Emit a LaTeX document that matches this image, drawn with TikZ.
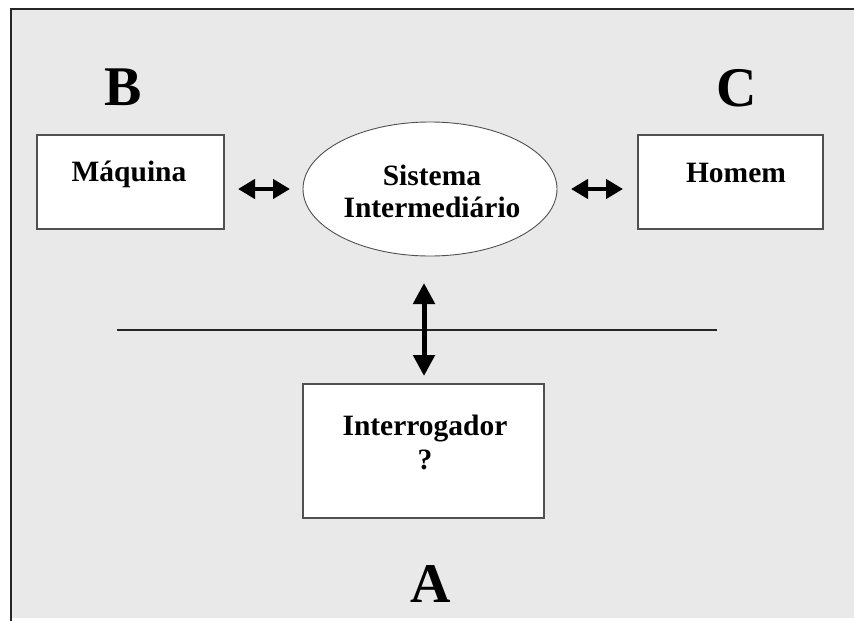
\documentclass[tikz,border=0pt]{standalone}
\usepackage{fontspec}
\setmainfont{Liberation Serif}
\usetikzlibrary{arrows.meta,shapes.geometric}
\definecolor{panel}{HTML}{E9E9E9}
\definecolor{edge}{HTML}{505050}
\tikzset{
  blockbox/.style={draw=edge, line width=1.4pt, fill=white, inner sep=0pt},
  lbl/.style={font=\fontsize{29.5}{34}\selectfont\bfseries, align=center, inner sep=0pt},
  bigletter/.style={font=\fontsize{56}{60}\selectfont\bfseries, inner sep=0pt},
  hlink/.style={line width=4.5pt, {Triangle[length=17pt,width=19pt]}-{Triangle[length=17pt,width=19pt]}},
  vlink/.style={line width=5pt, {Triangle[length=21pt,width=21pt]}-{Triangle[length=21pt,width=21pt]}}
}
\begin{document}
\begin{tikzpicture}[x=1pt, y=-1pt]
  \useasboundingbox (0,0) rectangle (854,621);
  % grey panel with its top and left rules
  \fill[panel] (11,9) rectangle (854,618);
  \draw[line width=1.6pt, black!85] (854,9) -- (11,9) -- (11,621);

  % boxes
  \node[blockbox, minimum width=187pt, minimum height=94pt] (maq) at (130.5,182) {};
  \node[lbl] at (129,174) {Máquina};
  \node[blockbox, minimum width=185pt, minimum height=94pt] (hom) at (730.5,182) {};
  \node[lbl] at (736,173) {Homem};
  \node[draw=edge, line width=0.9pt, fill=white, ellipse, minimum width=254pt, minimum height=134pt, inner sep=0pt] (sis) at (430,189) {};
  \node[lbl] at (432,191) {Sistema\\[-2pt]Intermediário};
  \node[blockbox, minimum width=241pt, minimum height=134pt] (int) at (423.5,451) {};
  \node[lbl] at (425,442) {Interrogador\\?};

  % letters
  \node[bigletter] at (123,87) {B};
  \node[bigletter] at (737,88) {C};
  \node[bigletter] at (431,584) {A};

  % separating rule
  \coordinate (r1) at (117,330);
  \coordinate (r2) at (717,330);
  \draw[line width=1.4pt, black!85] (r1) -- (r2);

  % connectors
  \coordinate (la) at (238,189);
  \coordinate (lb) at (290,189);
  \coordinate (ra) at (571,189);
  \coordinate (rb) at (623,189);
  \coordinate (va) at (424,283);
  \coordinate (vb) at (424,376);
  \draw[hlink] (la) -- (lb);
  \draw[hlink] (ra) -- (rb);
  \draw[vlink] (va) -- (vb);
\end{tikzpicture}
\end{document}
